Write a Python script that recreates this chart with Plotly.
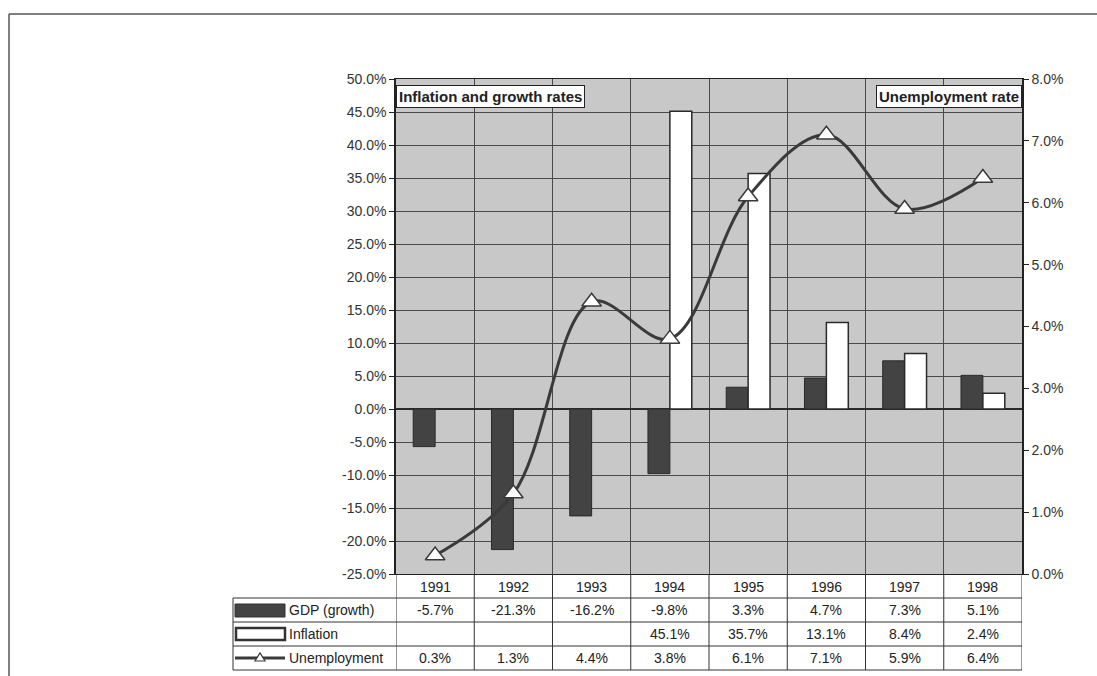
import plotly.graph_objects as go

years = ["1991", "1992", "1993", "1994", "1995", "1996", "1997", "1998"]
gdp_growth = [-5.7, -21.3, -16.2, -9.8, 3.3, 4.7, 7.3, 5.1]
inflation = [None, None, None, 45.1, 35.7, 13.1, 8.4, 2.4]
unemployment = [0.3, 1.3, 4.4, 3.8, 6.1, 7.1, 5.9, 6.4]

row_labels = ["GDP (growth)", "Inflation", "Unemployment"]
left_ticks = [-25, -20, -15, -10, -5, 0, 5, 10, 15, 20, 25, 30, 35, 40, 45, 50]
right_ticks = [0, 1, 2, 3, 4, 5, 6, 7, 8]

W, H = 1097, 676
L, R, T, B = 396, 1022, 79, 574
FONT = "Liberation Sans, Arial, sans-serif"
DARK = "#3a3a3a"
BG = "#c8c8c8"


def px(x):
    return (x - L) / (R - L)


def py(y):
    return (B - y) / (B - T)


def pct(v):
    return f"{v:.1f}%"


fig = go.Figure()
fig.add_trace(go.Bar(x=years, y=gdp_growth, name="GDP (growth)",
                     marker=dict(color="#434343", line=dict(color="#2a2a2a", width=1)),
                     yaxis="y"))
fig.add_trace(go.Bar(x=years, y=inflation, name="Inflation",
                     marker=dict(color="white", line=dict(color="#2a2a2a", width=1.5)),
                     yaxis="y"))
fig.add_trace(go.Scatter(x=years, y=unemployment, name="Unemployment", yaxis="y2",
                         mode="lines+markers",
                         line=dict(color=DARK, width=3, shape="spline", smoothing=1.0),
                         marker=dict(symbol="triangle-up", size=17, color="white",
                                     line=dict(color=DARK, width=1.5))))

shapes = []
annotations = []

# outer frame
shapes.append(dict(type="line", xref="paper", yref="paper", x0=px(9), x1=px(1097),
                   y0=py(14), y1=py(14), line=dict(color="#555", width=1.5)))
shapes.append(dict(type="line", xref="paper", yref="paper", x0=px(9), x1=px(9),
                   y0=py(14), y1=py(676), line=dict(color="#555", width=1.5)))

# data table grid
row_edges = [598, 622, 646, 670]
grid = dict(color="#333", width=1)
for y in row_edges:
    shapes.append(dict(type="line", xref="paper", yref="paper", x0=px(233), x1=1,
                       y0=py(y), y1=py(y), line=grid))
shapes.append(dict(type="line", xref="paper", yref="paper", x0=px(233), x1=px(233),
                   y0=py(598), y1=py(670), line=grid))
for i in range(len(years) + 1):
    shapes.append(dict(type="line", xref="x", yref="paper", x0=i - 0.5, x1=i - 0.5,
                       y0=0, y1=py(670), line=grid))

# legend keys in the table
shapes.append(dict(type="rect", xref="paper", yref="paper", x0=px(235), x1=px(285),
                   y0=py(604), y1=py(617), fillcolor="#434343", line=dict(color="#333", width=1)))
shapes.append(dict(type="rect", xref="paper", yref="paper", x0=px(236), x1=px(285),
                   y0=py(628), y1=py(640), fillcolor="white", line=dict(color="#333", width=2.5)))
shapes.append(dict(type="line", xref="paper", yref="paper", x0=px(235), x1=px(285),
                   y0=py(658), y1=py(658), line=dict(color=DARK, width=3)))
tx, ty = 260, 658
shapes.append(dict(type="path", xref="paper", yref="paper",
                   path=f"M {px(tx-5)} {py(ty+3)} L {px(tx+5)} {py(ty+3)} L {px(tx)} {py(ty-5)} Z",
                   fillcolor="white", line=dict(color=DARK, width=1.2)))

TFONT = dict(family=FONT, size=14, color="#222")

# row labels
row_centers = [610, 634, 658]
for lab, yc in zip(row_labels, row_centers):
    annotations.append(dict(xref="paper", yref="paper", x=px(287), y=py(yc), text=lab,
                            showarrow=False, xanchor="left", yanchor="middle", font=TFONT))

# year header row and values (x given as category index on the category axis)
for i, yr in enumerate(years):
    annotations.append(dict(xref="x", yref="paper", x=i, y=py(587), text=yr,
                            showarrow=False, yanchor="middle", font=TFONT))
    for series, yc in zip([gdp_growth, inflation, unemployment], row_centers):
        v = series[i]
        if v is None:
            continue
        annotations.append(dict(xref="x", yref="paper", x=i, y=py(yc), text=pct(v),
                                showarrow=False, yanchor="middle", font=TFONT))

# axis title boxes
BFONT = dict(family=FONT, size=15, color="#222")
annotations.append(dict(xref="paper", yref="paper", x=0, y=py(85), text="<b>Inflation and growth rates</b>",
                        showarrow=False, xanchor="left", yanchor="top", bgcolor="white",
                        bordercolor="#222", borderwidth=1, borderpad=2, font=BFONT))
annotations.append(dict(xref="paper", yref="paper", x=1, y=py(85), text="<b>Unemployment rate</b>",
                        showarrow=False, xanchor="right", yanchor="top", bgcolor="white",
                        bordercolor="#222", borderwidth=1, borderpad=2, font=BFONT))

fig.update_layout(
    width=W, height=H,
    margin=dict(l=L, r=W - R, t=T, b=H - B),
    paper_bgcolor="white", plot_bgcolor=BG,
    barmode="group", bargap=0.44, bargroupgap=0,
    showlegend=False,
    font=dict(family=FONT, size=14, color="#333"),
    xaxis=dict(type="category", showticklabels=False, ticks="", showgrid=True,
               tickson="boundaries", gridcolor="#4a4a4a", gridwidth=1,
               showline=True, linecolor="#222", linewidth=1, mirror=True,
               range=[-0.5, len(years) - 0.5]),
    yaxis=dict(range=[-25, 50], tickvals=left_ticks, ticktext=[pct(v) for v in left_ticks],
               showgrid=True, gridcolor="#4a4a4a", gridwidth=1,
               zeroline=True, zerolinecolor="#2a2a2a", zerolinewidth=1.5,
               ticks="outside", ticklen=5, tickcolor="#222",
               showline=True, linecolor="#222", linewidth=1.5,
               tickfont=dict(family=FONT, size=14, color="#333")),
    yaxis2=dict(range=[0, 8], tickvals=right_ticks, ticktext=[pct(v) for v in right_ticks],
                overlaying="y", side="right", showgrid=False, zeroline=False,
                ticks="outside", ticklen=5, tickcolor="#222",
                showline=True, linecolor="#222", linewidth=1.5,
                tickfont=dict(family=FONT, size=14, color="#333")),
    shapes=shapes, annotations=annotations,
)

fig.write_html("out.html")
